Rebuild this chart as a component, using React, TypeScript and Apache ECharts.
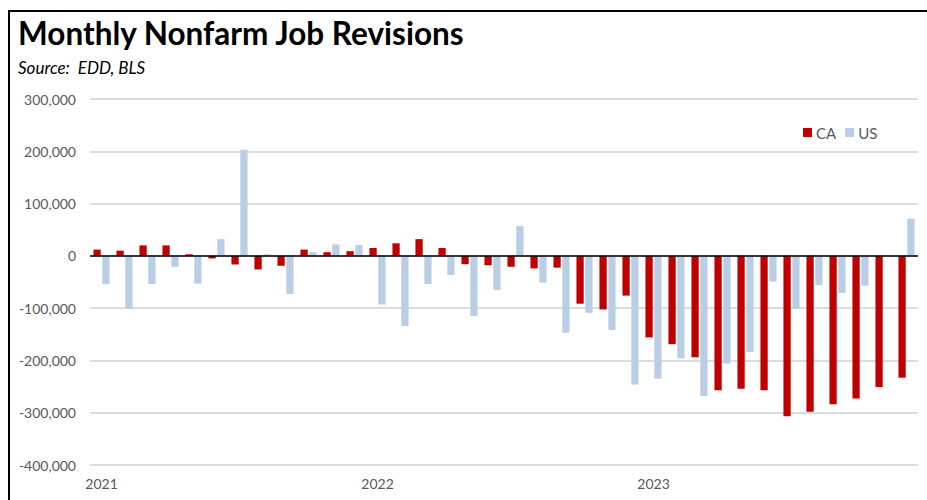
import React, { useEffect, useRef } from "react";
import * as echarts from "echarts";

const months: string[] = [];
for (const y of ["2021", "2022", "2023"]) {
  for (const m of ["01", "02", "03", "04", "05", "06", "07", "08", "09", "10", "11", "12"]) {
    months.push(`${y}-${m}`);
  }
}

const caValues: (number | null)[] = [
  12000, 10000, 20000, 20000, 3000, -5000, -16500, -26000, -19000, 12000, 7000, 9000,
  15000, 24000, 32000, 15000, -16000, -18000, -21000, -24000, -22500, -91500, -102500, -76000,
  -156000, -169000, -194000, -257000, -254000, -257000, -307000, -298000, -284000, -273000, -251000, -233000,
];

const usValues: (number | null)[] = [
  -54000, -101000, -54000, -21000, -53000, 32000, 203000, 3000, -73000, 7000, 22000, 21000,
  -93000, -134000, -54000, -36500, -115000, -65000, 57000, -51000, -147000, -109000, -142000, -246000,
  -235000, -196000, -268000, -206000, -184000, -49000, -101000, -56000, -71000, -57000, null, 71000,
];

const seriesNames = ["CA", "US"];
const titleText = "Monthly Nonfarm Job Revisions";
const subtitleText = "Source:  EDD, BLS";

const FONT = "Lato, 'Liberation Sans', sans-serif";

export default function App() {
  const ref = useRef<HTMLDivElement>(null);
  useEffect(() => {
    if (!ref.current) return;
    const chart = echarts.init(ref.current, undefined, { renderer: "svg" });
    chart.setOption({
      animation: false,
      backgroundColor: "#ffffff",
      textStyle: { fontFamily: FONT },
      title: [
        {
          text: titleText,
          left: 13,
          top: 12,
          textStyle: { fontFamily: FONT, fontSize: 31.5, fontWeight: "bold", color: "#000" },
        },
        {
          text: subtitleText,
          left: 13,
          top: 54,
          textStyle: { fontFamily: FONT, fontSize: 17, fontStyle: "italic", fontWeight: "normal", color: "#000" },
        },
      ],
      legend: {
        left: 798,
        top: 120,
        icon: "rect",
        itemWidth: 9,
        itemHeight: 9,
        itemGap: 9,
        textStyle: { fontFamily: FONT, fontSize: 15, color: "#595959", padding: [0, 0, 0, -1] },
        data: seriesNames,
      },
      grid: { left: 90, right: 9, top: 99, bottom: 35, containLabel: false },
      xAxis: {
        type: "category",
        data: months,
        axisLine: { show: false },
        axisTick: { show: false },
        splitLine: { show: false },
        axisLabel: {
          interval: 11,
          margin: 11,
          fontFamily: FONT,
          fontSize: 14,
          color: "#595959",
          formatter: (v: string) => v.slice(0, 4),
        },
      },
      yAxis: {
        type: "value",
        min: -400000,
        max: 300000,
        interval: 100000,
        axisLine: { show: false },
        axisTick: { show: false },
        splitLine: { lineStyle: { color: "#dcdcdc", width: 2 } },
        axisLabel: {
          margin: 14,
          fontFamily: FONT,
          fontSize: 14,
          color: "#595959",
          formatter: (v: number) => v.toLocaleString("en-US"),
        },
      },
      series: [
        {
          name: seriesNames[0],
          type: "bar",
          data: caValues,
          itemStyle: { color: "#C00000" },
          barGap: "22%",
          barCategoryGap: "30%",
          markLine: {
            silent: true,
            symbol: "none",
            label: { show: false },
            lineStyle: { color: "#000", width: 1.5, type: "solid" },
            data: [{ yAxis: 0 }],
            z: 10,
          },
        },
        {
          name: seriesNames[1],
          type: "bar",
          data: usValues,
          itemStyle: { color: "#B9CDE5" },
          barGap: "22%",
          barCategoryGap: "30%",
        },
      ],
      graphic: [
        {
          type: "rect",
          shape: { x: 9, y: 11, width: 1000, height: 1000 },
          style: { fill: "none", stroke: "#000", lineWidth: 2 },
          silent: true,
        },
      ],
    });
    return () => chart.dispose();
  }, []);
  return (
    <div
      ref={ref}
      style={{ position: "absolute", left: 0, top: 0, width: 927, height: 500 }}
    />
  );
}
